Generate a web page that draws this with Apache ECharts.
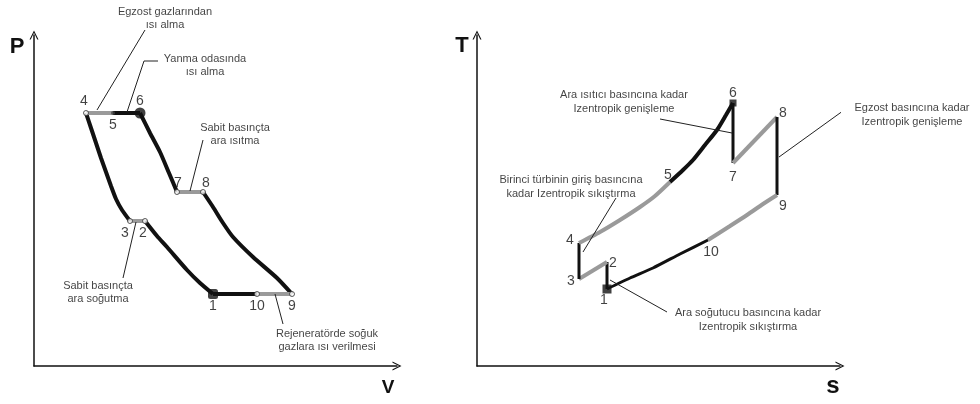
<!DOCTYPE html>
<html>
<head>
<meta charset="utf-8">
<script src="https://cdn.jsdelivr.net/npm/echarts@6/dist/echarts.min.js"></script>
<style>
  body { margin: 0; background: #fff; }
  #chart { width: 980px; height: 404px; }
</style>
</head>
<body>
<div id="chart"></div>
<script>
// state numbers, same order for both diagrams
var states = ['1', '2', '3', '4', '5', '6', '7', '8', '9', '10'];

// P-V diagram (no units)
var pvV = [179, 111, 96, 52, 79, 106, 143, 169, 258, 223];
var pvP = [72, 145, 145, 253, 253, 253, 174, 174, 72, 72];

// curved processes on P-V
var pv12V = [179, 166, 153, 133, 123, 111];
var pv12P = [72, 83, 96, 119, 130, 145];
var pv34V = [96, 88, 82, 77, 72, 67, 62, 57, 52];
var pv34P = [145, 156, 167, 180, 194, 208, 223, 238, 253];
var pv67V = [106, 116, 126, 135, 143];
var pv67P = [253, 233, 214, 193, 174];
var pv89V = [169, 179, 189, 199, 219, 243, 258];
var pv89P = [174, 159, 143, 129, 109, 88, 72];

// T-s diagram
var tsS = [130, 130, 102, 102, 193, 256, 256, 300, 300, 231];
var tsT = [77, 104, 87, 123, 184, 263, 203, 249, 171, 126];

var ts45S = [102, 123, 143, 163, 178, 193];
var ts45T = [123, 134, 146, 159, 170, 184];
var ts56S = [193, 206, 216, 228, 240, 249, 256];
var ts56T = [184, 196, 206, 221, 236, 251, 263];
var ts910S = [300, 286, 270, 253, 231];
var ts910T = [171, 162, 151, 140, 126];
var ts101S = [231, 203, 176, 153, 130];
var ts101T = [126, 112, 98, 88, 77];

// notes
var pvNotes = ['Egzost gazlarından\nısı alma', 'Yanma odasında\nısı alma', 'Sabit basınçta\nara ısıtma',
    'Sabit basınçta\nara soğutma', 'Rejeneratörde soğuk\ngazlara ısı verilmesi'];
var pvNoteV = [131, 171, 201, 64, 293];
var pvNoteP = [348, 301, 232, 74, 26];
var pvLeaders = [
    [[111, 336], [63, 256]],
    [[124, 305], [110, 305], [93, 254]],
    [[169, 226], [156, 175]],
    [[102, 144], [89, 88]],
    [[241, 72], [249, 42]]
];

var tsNotes = ['Ara ısıtıcı basıncına kadar\nIzentropik genişleme', 'Egzost basıncına kadar\nIzentropik genişleme',
    'Birinci türbinin giriş basıncına\nkadar Izentropik sıkıştırma', 'Ara soğutucu basıncına kadar\nIzentropik sıkıştırma'];
var tsNoteS = [147, 435, 94, 271];
var tsNoteT = [264, 251, 179, 46];
var tsLeaders = [
    [[183, 247], [255, 233]],
    [[370, 258], [302, 209]],
    [[139, 168], [106, 114]],
    [[133, 86], [190, 54]]
];

var BLACK = '#111';
var GREY = '#9a9a9a';
var TXT = '#111';

function pts(xs, ys) {
    return xs.map(function (x, i) { return [x, ys[i]]; });
}

function seg(g, data, color, w, smooth) {
    return {
        type: 'line', xAxisIndex: g, yAxisIndex: g, data: data,
        symbol: 'none', smooth: smooth ? 0.2 : false, silent: true, clip: false,
        lineStyle: { color: color, width: w }, z: 2
    };
}

// straight segment between two states
function st(xs, ys, a, b) {
    return [[xs[a], ys[a]], [xs[b], ys[b]]];
}

// label offsets (px) for the state numbers
var pvLabelOff = { '1': [0, 12], '2': [-2, 12], '3': [-5, 12], '4': [-2, -12], '5': [0, 12],
    '6': [0, -12], '7': [1, -9], '8': [3, -9], '9': [0, 12], '10': [0, 12] };
var tsLabelOff = { '1': [-3, 11], '2': [6, 1], '3': [-8, 2], '4': [-9, -3], '5': [-2, -7],
    '6': [0, -10], '7': [0, 14], '8': [6, -4], '9': [6, 11], '10': [3, 12] };

function stateMarks(g, xs, ys, offs, styleFor) {
    return {
        type: 'scatter', xAxisIndex: g, yAxisIndex: g, silent: true, clip: false, z: 5,
        data: states.map(function (s, i) {
            var d = { name: s, value: [xs[i], ys[i]] };
            var sty = styleFor(s);
            d.symbol = sty.symbol;
            d.symbolSize = sty.size;
            d.itemStyle = sty.item;
            d.label = { show: true, position: 'inside', offset: offs[s], formatter: '{b}',
                color: TXT, fontSize: 14, fontFamily: 'Liberation Sans, Arial, sans-serif' };
            return d;
        })
    };
}

function notes(g, texts, xs, ys, lh) {
    return {
        type: 'scatter', xAxisIndex: g, yAxisIndex: g, silent: true, clip: false, z: 6,
        symbolSize: 1, itemStyle: { color: 'rgba(0,0,0,0)' },
        data: texts.map(function (t, i) { return { name: t, value: [xs[i], ys[i]] }; }),
        label: { show: true, position: 'inside', formatter: '{b}', color: TXT, fontSize: 11,
            lineHeight: lh, align: 'center', fontFamily: 'Liberation Sans, Arial, sans-serif' }
    };
}

function leaders(g, list) {
    return list.map(function (l) { return seg(g, l, '#222', 1, false); });
}

var arrowPath = 'path://M0,10 L5,0 L10,10 L8.6,10 L5,2.6 L1.4,10 Z';

function axis(max) {
    return {
        type: 'value', min: 0, max: max,
        axisLine: { show: true, symbol: ['none', arrowPath], symbolSize: [9, 11],
            lineStyle: { color: '#111', width: 1.5 } },
        axisTick: { show: false }, axisLabel: { show: false }, splitLine: { show: false }
    };
}

var chart = echarts.init(document.getElementById('chart'));

var series = [];
// P-V cycle
series.push(seg(0, pts(pv12V, pv12P), BLACK, 4, true));
series.push(seg(0, st(pvV, pvP, 1, 2), GREY, 4));
series.push(seg(0, pts(pv34V, pv34P), BLACK, 4, true));
series.push(seg(0, st(pvV, pvP, 3, 4), GREY, 4));
series.push(seg(0, st(pvV, pvP, 4, 5), BLACK, 4));
series.push(seg(0, pts(pv67V, pv67P), BLACK, 4, true));
series.push(seg(0, st(pvV, pvP, 6, 7), GREY, 4));
series.push(seg(0, pts(pv89V, pv89P), BLACK, 4, true));
series.push(seg(0, st(pvV, pvP, 8, 9), GREY, 4));
series.push(seg(0, st(pvV, pvP, 9, 0), BLACK, 4));
series = series.concat(leaders(0, pvLeaders));
series.push(stateMarks(0, pvV, pvP, pvLabelOff, function (s) {
    if (s === '6') return { symbol: 'circle', size: 11, item: { color: BLACK } };
    if (s === '1') return { symbol: 'roundRect', size: 10, item: { color: BLACK } };
    if (s === '5') return { symbol: 'circle', size: 4, item: { color: '#444' } };
    return { symbol: 'circle', size: 5, item: { color: '#fff', borderColor: '#333', borderWidth: 1 } };
}));
series.push(notes(0, pvNotes, pvNoteV, pvNoteP, 13));

// T-s cycle
series.push(seg(1, st(tsS, tsT, 0, 1), BLACK, 3));
series.push(seg(1, st(tsS, tsT, 1, 2), GREY, 4));
series.push(seg(1, st(tsS, tsT, 2, 3), BLACK, 3));
series.push(seg(1, pts(ts45S, ts45T), GREY, 4, true));
series.push(seg(1, pts(ts56S, ts56T), BLACK, 4, true));
series.push(seg(1, st(tsS, tsT, 5, 6), BLACK, 3));
series.push(seg(1, st(tsS, tsT, 6, 7), GREY, 4));
series.push(seg(1, st(tsS, tsT, 7, 8), BLACK, 3));
series.push(seg(1, pts(ts910S, ts910T), GREY, 4, true));
series.push(seg(1, pts(ts101S, ts101T), BLACK, 3, true));
series = series.concat(leaders(1, tsLeaders));
series.push(stateMarks(1, tsS, tsT, tsLabelOff, function (s) {
    if (s === '6') return { symbol: 'rect', size: 7, item: { color: BLACK } };
    if (s === '1') return { symbol: 'rect', size: 9, item: { color: BLACK } };
    return { symbol: 'circle', size: 1, item: { color: 'rgba(0,0,0,0)' } };
}));
series.push(notes(1, tsNotes, tsNoteS, tsNoteT, 14));

var option = {
    backgroundColor: '#fff',
    animation: false,
    grid: [
        { left: 34, top: 35, width: 363, height: 331 },
        { left: 477, top: 35, width: 363, height: 331 }
    ],
    xAxis: [Object.assign(axis(363), { gridIndex: 0 }), Object.assign(axis(363), { gridIndex: 1 })],
    yAxis: [Object.assign(axis(331), { gridIndex: 0 }), Object.assign(axis(331), { gridIndex: 1 })],
    graphic: [
        { type: 'text', x: 17, y: 47, style: { text: 'P', font: 'bold 22px Liberation Sans, Arial', fill: '#111', textAlign: 'center', textVerticalAlign: 'middle' } },
        { type: 'text', x: 388, y: 388, style: { text: 'V', font: 'bold 19px Liberation Sans, Arial', fill: '#111', textAlign: 'center', textVerticalAlign: 'middle' } },
        { type: 'text', x: 462, y: 46, style: { text: 'T', font: 'bold 22px Liberation Sans, Arial', fill: '#111', textAlign: 'center', textVerticalAlign: 'middle' } },
        { type: 'text', x: 833, y: 386, style: { text: 's', font: 'bold 24px Liberation Sans, Arial', fill: '#111', textAlign: 'center', textVerticalAlign: 'middle' } }
    ],
    series: series
};
chart.setOption(option);
</script>
</body>
</html>
